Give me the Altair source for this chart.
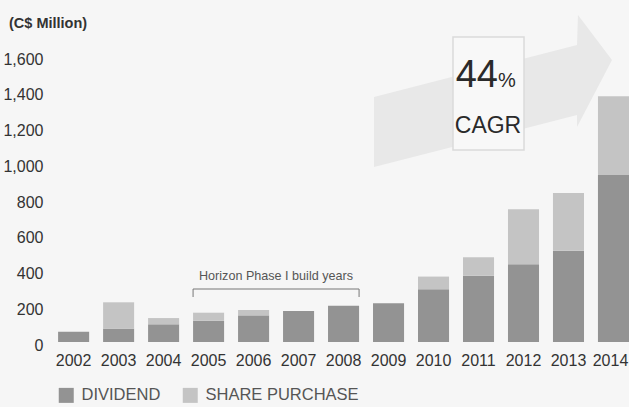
import altair as alt
import pandas as pd

years = ["2002", "2003", "2004", "2005", "2006", "2007", "2008",
         "2009", "2010", "2011", "2012", "2013", "2014"]
dividend = [58, 75, 99, 119, 149, 174, 203, 217, 295, 370, 435, 511, 937]
share_purchase = [0, 147, 35, 45, 30, 0, 0, 0, 71, 104, 308, 322, 438]
series = ["DIVIDEND", "SHARE PURCHASE"]
colors = ["#939393", "#c4c4c4"]
y_ticks = [0, 200, 400, 600, 800, 1000, 1200, 1400, 1600]

FONT = "Liberation Sans, Arial, sans-serif"

rows = []
for i, y in enumerate(years):
    rows.append({"year": y, "series": series[0], "value": dividend[i], "order": 0})
    rows.append({"year": y, "series": series[1], "value": share_purchase[i], "order": 1})
df = pd.DataFrame(rows)

W, H = 579, 286

xscale = alt.Scale(domain=years, paddingInner=0.31, paddingOuter=0.09, align=1)
xaxis = alt.Axis(title=None, labelAngle=0, ticks=False, domain=False,
                 labelPadding=10, labelFontSize=16, labelFont=FONT,
                 labelColor="#333333", labelBaseline="top",
                 labelOffset={"condition": {"test": "datum.value == '2014'", "value": -3},
                              "value": 0})

bars = alt.Chart(df).mark_bar().encode(
    x=alt.X("year:N", scale=xscale, sort=years, axis=xaxis),
    y=alt.Y("value:Q", stack="zero", scale=alt.Scale(domain=[0, 1600], nice=False),
            axis=alt.Axis(title=None, values=y_ticks, format=",.0f", grid=False,
                          ticks=False, domain=False, labelPadding=7,
                          labelFontSize=16, labelFont=FONT, labelColor="#333333",
                          labelOffset=3)),
    color=alt.Color("series:N", scale=alt.Scale(domain=series, range=colors),
                    legend=alt.Legend(title=None, orient="none", legendX=8, legendY=331,
                                      direction="horizontal", symbolType="square",
                                      symbolSize=225, symbolStrokeWidth=0,
                                      labelFont=FONT, labelFontSize=16.5, labelLimit=0,
                                      labelColor="#555555", labelOffset=7,
                                      columnPadding=21)),
    order=alt.Order("order:Q"),
)

anno = pd.DataFrame({"x": [0]})

arrow_path = ("M-1,0.639 L-1,0.05 L0.706,-0.387 L0.714,-0.639 "
              "L1,-0.261 L0.706,0.303 L0.706,0.202 Z")
arrow = alt.Chart(anno).mark_point(
    shape=arrow_path, size=238 * 238, filled=True, fill="#e8e8e8",
    opacity=1, strokeWidth=0
).encode(x=alt.value(443), y=alt.value(35))

box = alt.Chart(anno).mark_rect(
    fill="#f8f8f8", stroke="#dadada", strokeWidth=1.5
).encode(x=alt.value(403), x2=alt.value(474), y=alt.value(-19), y2=alt.value(94))

t44 = alt.Chart(anno).mark_text(
    text="44", font=FONT, fontSize=38, color="#2a2a2a", align="right", baseline="alphabetic"
).encode(x=alt.value(448), y=alt.value(31))
tpct = alt.Chart(anno).mark_text(
    text="%", font=FONT, fontSize=20, color="#2a2a2a", align="left", baseline="alphabetic"
).encode(x=alt.value(448), y=alt.value(31))
tcagr = alt.Chart(anno).mark_text(
    text="CAGR", font=FONT, fontSize=23, color="#2a2a2a", align="center", baseline="alphabetic"
).encode(x=alt.value(438), y=alt.value(77))

unit = alt.Chart(anno).mark_text(
    text="(C$ Million)", font=FONT, fontSize=14.5, fontWeight="bold", color="#333333",
    align="left", baseline="middle"
).encode(x=alt.value(-41), y=alt.value(-32))

bracket_df = pd.DataFrame({"start": ["2005"], "end": ["2008"]})
b_line = alt.Chart(bracket_df).mark_rule(color="#777777", strokeWidth=1).encode(
    x=alt.X("start:N", bandPosition=0, scale=xscale, axis=xaxis),
    x2=alt.X2("end:N", bandPosition=1),
    y=alt.value(233),
)
b_left = alt.Chart(bracket_df).mark_rule(color="#777777", strokeWidth=1).encode(
    x=alt.X("start:N", bandPosition=0, scale=xscale, axis=xaxis),
    y=alt.value(233), y2=alt.value(241),
)
b_right = alt.Chart(bracket_df).mark_rule(color="#777777", strokeWidth=1).encode(
    x=alt.X("end:N", bandPosition=1, scale=xscale, axis=xaxis),
    y=alt.value(233), y2=alt.value(241),
)
b_text = alt.Chart(anno).mark_text(
    text="Horizon Phase I build years", font=FONT, fontSize=12.6, color="#555555",
    align="center", baseline="middle"
).encode(x=alt.value(226), y=alt.value(220))

chart = alt.layer(
    arrow, box, t44, tpct, tcagr, bars, b_line, b_left, b_right, b_text, unit
).properties(
    width=W, height=H,
    autosize=alt.AutoSizeParams(type="none"),
    padding={"left": 50, "top": 56, "right": 0, "bottom": 65},
    background="#f6f6f6",
).configure_view(stroke=None)

chart.save("out.html", embed_options={"renderer": "svg", "actions": False})
